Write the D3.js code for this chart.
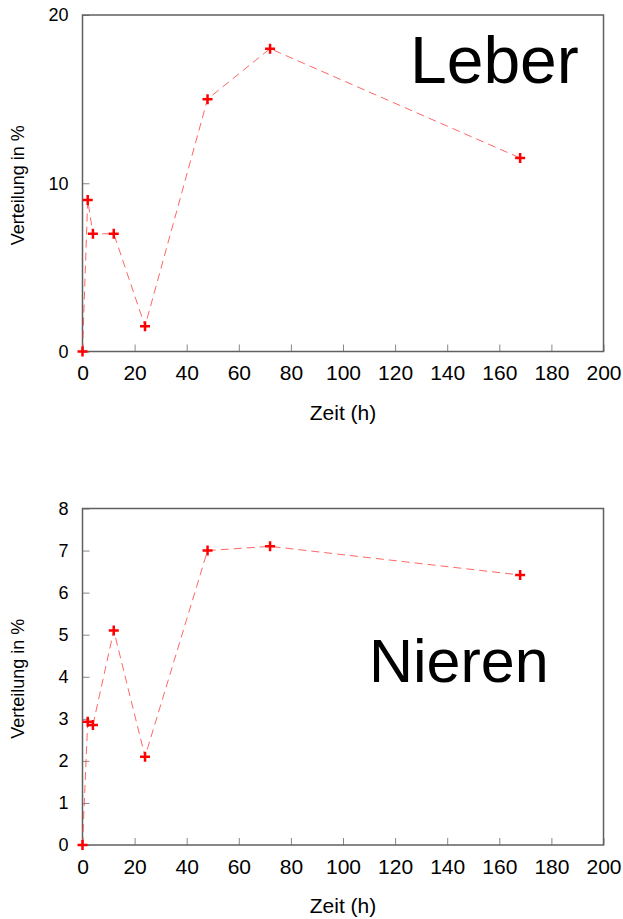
<!DOCTYPE html>
<html lang="de">
<head>
<meta charset="utf-8">
<title>Verteilung Leber / Nieren</title>
<script src="https://cdn.jsdelivr.net/npm/d3@7"></script>
<style>
  body { margin: 0; background: #fff; }
  text { font-family: "Liberation Sans", Arial, sans-serif; fill: #000; }
</style>
</head>
<body>
<script>
// data
var timeHours = [0, 2, 4, 12, 24, 48, 72, 168];
var leberValues = [0, 9, 7, 7, 1.5, 15, 18, 11.5];
var nierenValues = [0, 2.93, 2.85, 5.1, 2.1, 7.0, 7.1, 6.42];
var xTicks = [0, 20, 40, 60, 80, 100, 120, 140, 160, 180, 200];
var leberTicks = [0, 10, 20];
var nierenTicks = [0, 1, 2, 3, 4, 5, 6, 7, 8];

var w = 623, h = 919;
var svg = d3.select("body").append("svg")
  .attr("width", w)
  .attr("height", h);

function drawPanel(opt) {
  var x = d3.scaleLinear().domain([0, 200]).range([opt.left, opt.right]);
  var y = d3.scaleLinear().domain([0, opt.yMax]).range([opt.bottom, opt.top]);
  var g = svg.append("g");

  // x axis, ticks pointing inward
  var xa = g.append("g")
    .attr("transform", "translate(0," + opt.bottom + ")")
    .call(d3.axisBottom(x).tickValues(xTicks).tickSizeInner(-7).tickSizeOuter(0).tickPadding(14));
  xa.select(".domain").remove();
  xa.selectAll("line").attr("stroke", "#888");
  xa.selectAll("text").style("font-size", "21px").attr("fill", "#000");

  var ya = g.append("g")
    .attr("transform", "translate(" + opt.left + ",0)")
    .call(d3.axisLeft(y).tickValues(opt.ticks).tickSizeInner(-7).tickSizeOuter(0).tickPadding(14));
  ya.select(".domain").remove();
  ya.selectAll("line").attr("stroke", "#888");
  ya.selectAll("text").style("font-size", "18px").attr("fill", "#222");

  // plot frame
  g.append("rect")
    .attr("x", opt.left)
    .attr("y", opt.top)
    .attr("width", opt.right - opt.left)
    .attr("height", opt.bottom - opt.top)
    .attr("fill", "none")
    .attr("stroke", "#606060")
    .attr("stroke-width", 1.5);

  var pts = timeHours.map(function(t, i) { return [t, opt.values[i]]; });

  var line = d3.line()
    .x(function(d) { return x(d[0]); })
    .y(function(d) { return y(d[1]); });

  g.append("path")
    .datum(pts)
    .attr("d", line)
    .attr("fill", "none")
    .attr("stroke", "#ff4040")
    .attr("stroke-opacity", 0.8)
    .attr("stroke-width", 1)
    .attr("stroke-dasharray", "8,5");

  // plus markers
  var s = 5;
  g.selectAll("path.pt")
    .data(pts)
    .enter()
    .append("path")
    .attr("class", "pt")
    .attr("d", function(d) {
      var cx = x(d[0]), cy = y(d[1]);
      return "M" + (cx - s) + "," + cy + "H" + (cx + s) +
             "M" + cx + "," + (cy - s) + "V" + (cy + s);
    })
    .attr("stroke", "#ff0000")
    .attr("stroke-width", 2.5);

  // axis titles
  g.append("text")
    .attr("x", (opt.left + opt.right) / 2)
    .attr("y", opt.bottom + 68)
    .attr("text-anchor", "middle")
    .style("font-size", "21px")
    .text("Zeit (h)");

  g.append("text")
    .attr("transform", "translate(24," + ((opt.top + opt.bottom) / 2 + 2) + ") rotate(-90)")
    .attr("text-anchor", "middle")
    .style("font-size", "18px")
    .attr("fill", "#222")
    .text("Verteilung in %");

  // organ label
  g.append("text")
    .attr("x", opt.labelX)
    .attr("y", opt.labelY)
    .style("font-size", opt.labelSize + "px")
    .text(opt.label);
}

drawPanel({
  left: 82.5, right: 603.5, top: 15, bottom: 351.5,
  yMax: 20, ticks: leberTicks, values: leberValues,
  label: "Leber", labelX: 410, labelY: 83, labelSize: 66
});

drawPanel({
  left: 82.5, right: 603.5, top: 508.5, bottom: 845,
  yMax: 8, ticks: nierenTicks, values: nierenValues,
  label: "Nieren", labelX: 369, labelY: 682, labelSize: 61
});
</script>
</body>
</html>
